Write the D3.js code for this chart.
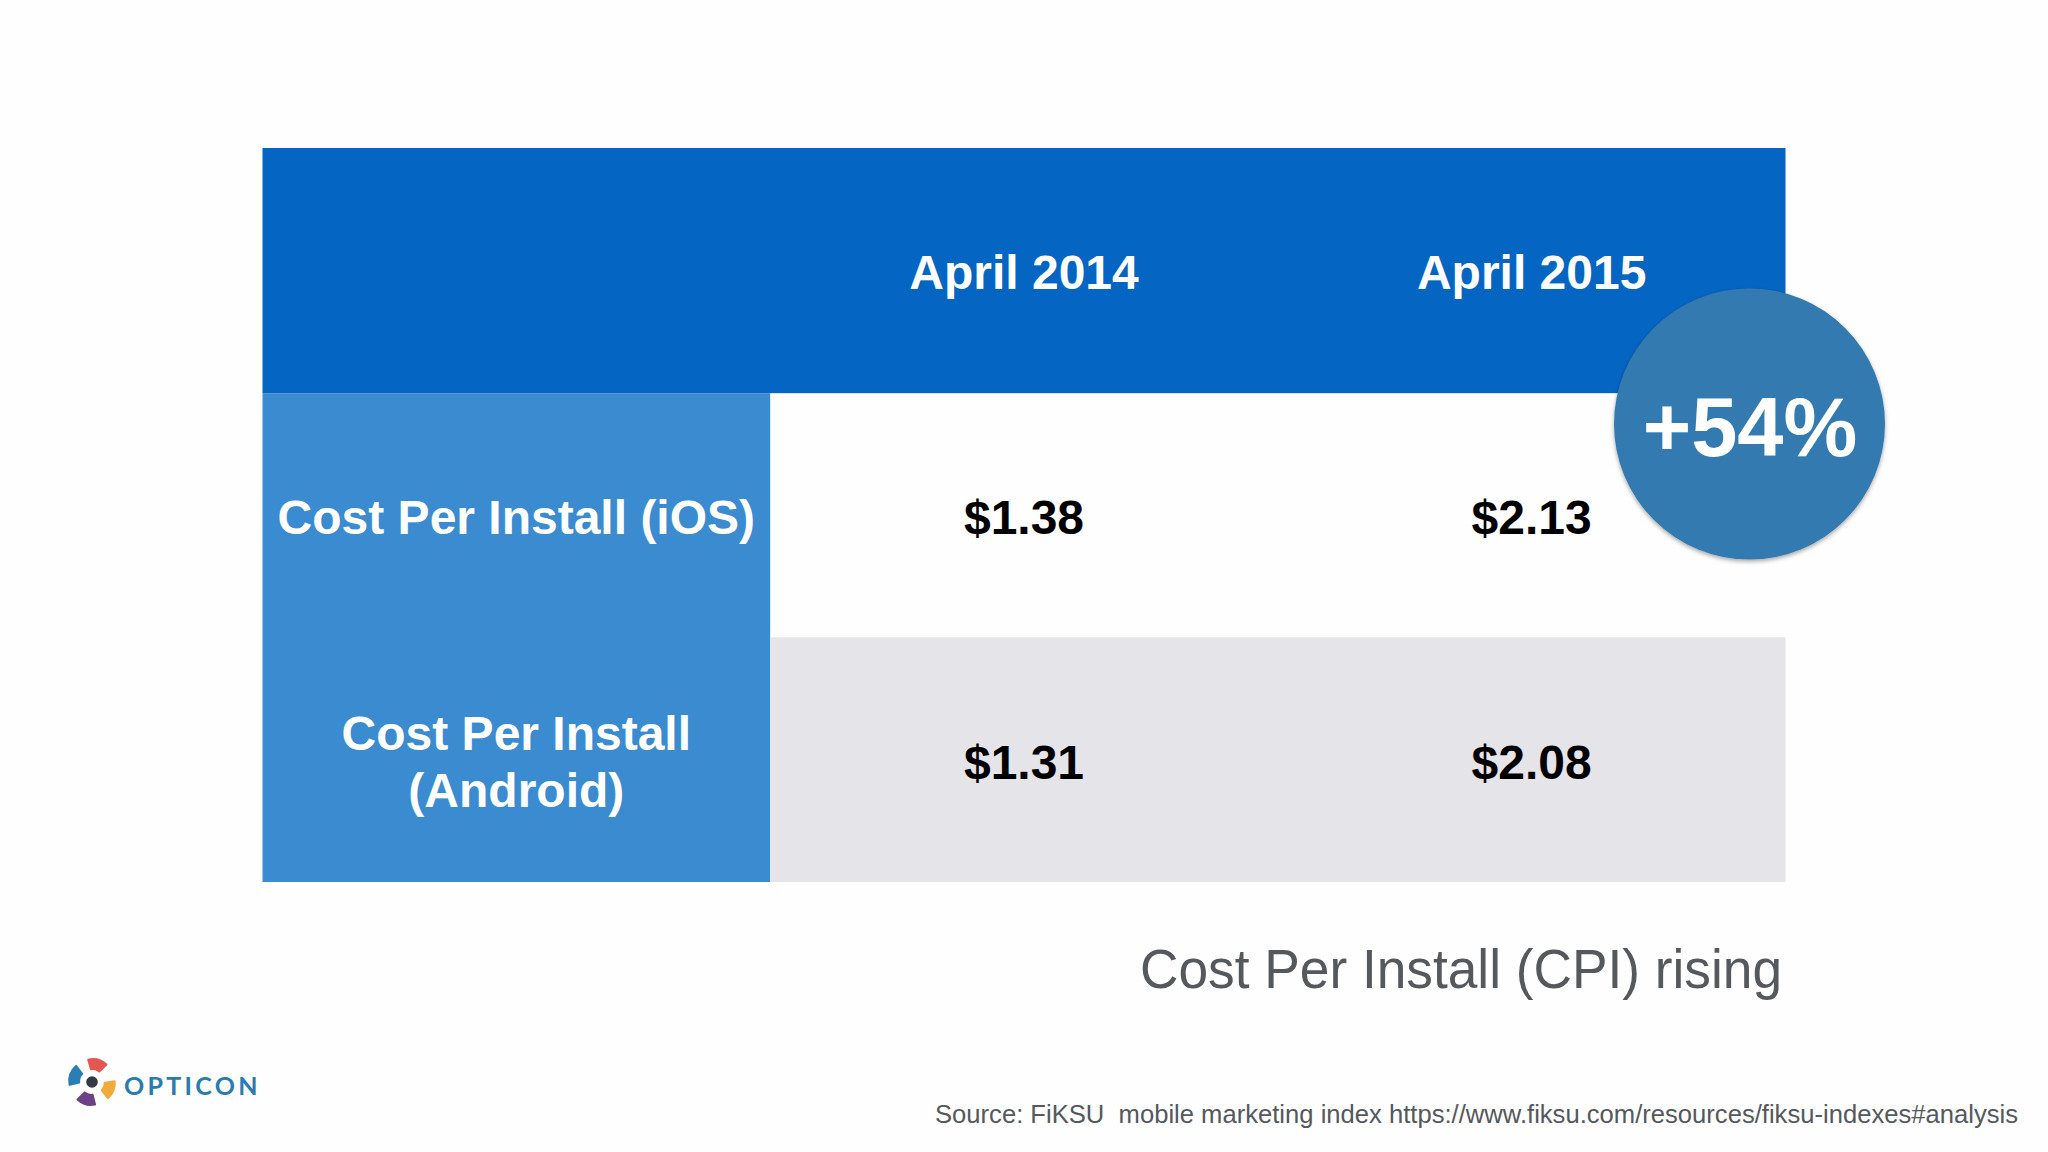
<!DOCTYPE html>
<html><head><meta charset="utf-8">
<script src="https://cdn.jsdelivr.net/npm/d3@7/dist/d3.min.js"></script>
<style>html,body{margin:0;padding:0;background:#fefefe}svg{display:block}text{font-family:"Liberation Sans",Arial,sans-serif;white-space:pre}</style>
</head><body><svg id="c" width="2048" height="1152"></svg>
<script>
const periods=["April 2014","April 2015"];
const rowKeys=["ios","android"];
const rowLabels=[["Cost Per Install (iOS)"],["Cost Per Install","(Android)"]];
const valuesApr2014=[1.38,1.31];
const valuesApr2015=[2.13,2.08];
const badgeText="+54%";
const caption="Cost Per Install (CPI) rising";
const source="Source: FiKSU  mobile marketing index https://www.fiksu.com/resources/fiksu-indexes#analysis";
const logoColors=["#e2574f","#f0ab3c","#6c4187","#2a7db5"];
const logoStartDeg=[-16,82,166,256];
const logoEndDeg=[46,142,226,322];

const svg=d3.select("#c");
const fmt=d3.format("$.2f");
const colX=d3.scaleBand().domain(["label",...periods]).range([262.5,1785.5]);
const rowY=d3.scaleBand().domain(["header",...rowKeys]).range([148,882]);
const w=colX.bandwidth(),h=rowY.bandwidth();

svg.append("rect").attr("x",colX("label")).attr("y",rowY("header")).attr("width",w*3).attr("height",h+0.5).attr("fill","#0465c3");
svg.append("rect").attr("x",colX("label")).attr("y",rowY("ios")+0.5).attr("width",w).attr("height",h*2-0.5).attr("fill","#3a8bd0");
svg.append("rect").attr("x",colX(periods[0])).attr("y",rowY("android")).attr("width",w*2).attr("height",h).attr("fill","#e4e4e9");

const mid=(s,k)=>s(k)+s.bandwidth()/2;
svg.selectAll("text.head").data(periods).join("text").attr("class","head")
 .attr("x",d=>mid(colX,d)).attr("y",mid(rowY,"header")+19).attr("text-anchor","middle")
 .attr("font-size",48).attr("font-weight",700).attr("fill","#fff").text(d=>d);

rowKeys.forEach((k,i)=>{
  const lines=rowLabels[i];
  lines.forEach((t,j)=>{
    svg.append("text").attr("x",mid(colX,"label"))
      .attr("y",mid(rowY,k)+19+(j-(lines.length-1)/2)*57.5)
      .attr("text-anchor","middle").attr("font-size",48).attr("font-weight",700).attr("fill","#fff").text(t);
  });
  [valuesApr2014,valuesApr2015].forEach((vals,c)=>{
    svg.append("text").attr("x",mid(colX,periods[c])).attr("y",mid(rowY,k)+19)
      .attr("text-anchor","middle").attr("font-size",48).attr("font-weight",700).attr("fill","#000").text(fmt(vals[i]));
  });
});

const defs=svg.append("defs");
const f=defs.append("filter").attr("id","sh").attr("x","-10%").attr("y","-10%").attr("width","120%").attr("height","120%");
f.append("feDropShadow").attr("dx",0).attr("dy",2).attr("stdDeviation",2).attr("flood-color","#000").attr("flood-opacity",0.35);
svg.append("circle").attr("cx",1749.5).attr("cy",424).attr("r",135.5).attr("fill","#337ab0").attr("filter","url(#sh)");
svg.append("text").attr("x",1750).attr("y",456).attr("text-anchor","middle").attr("font-size",83).attr("font-weight",700).attr("fill","#fff").text(badgeText);

svg.append("text").attr("x",1782).attr("y",988).attr("text-anchor","end").attr("font-size",56).attr("fill","#55585c")
  .attr("textLength",642).attr("lengthAdjust","spacingAndGlyphs").text(caption);
svg.append("text").attr("x",2018).attr("y",1123).attr("text-anchor","end").attr("font-size",26).attr("fill","#55585c")
  .attr("textLength",1083).attr("lengthAdjust","spacingAndGlyphs").text(source);

const arc=d3.arc().innerRadius(9).outerRadius(21).cornerRadius(1);
const logo=svg.append("g").attr("transform","translate(92,1082)");
const rad=d=>d*Math.PI/180;
logo.selectAll("path").data(logoColors).join("path").attr("fill",d=>d)
  .attr("transform",(d,i)=>{const m=rad((logoStartDeg[i]+logoEndDeg[i])/2);return `translate(${3*Math.sin(m)},${-3*Math.cos(m)})`;})
  .attr("d",(d,i)=>arc({startAngle:rad(logoStartDeg[i]),endAngle:rad(logoEndDeg[i])}));
logo.append("circle").attr("r",5.8).attr("fill","#333a44");
svg.append("text").attr("x",124).attr("y",1095).attr("font-size",25).attr("font-weight",700).attr("letter-spacing",3.3).attr("fill","#2a7bb0").style("font-family","Lato").text("OPTICON");
</script></body></html>
